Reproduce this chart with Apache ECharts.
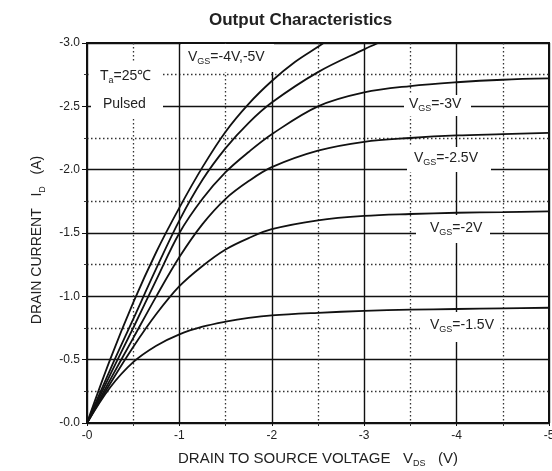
<!DOCTYPE html>
<html>
<head>
<meta charset="utf-8">
<script src="https://cdn.jsdelivr.net/npm/echarts@6/dist/echarts.min.js"></script>
<style>
  html, body { margin: 0; padding: 0; background: #fff; }
  #chart { width: 552px; height: 471px; }
</style>
</head>
<body>
<div id="chart"></div>
<script>
  // drain to source voltage (V)
  var vds = [0, -0.25, -0.5, -0.75, -1, -1.25, -1.5, -1.75, -2, -2.5, -3, -3.5, -4, -4.5, -5]
  // the two top curves leave the plot at -3.0 A
  var vdsVgs5 = [0, -0.25, -0.5, -0.75, -1, -1.25, -1.5, -1.75, -2, -2.25, -2.5, -2.56]
  var vdsVgs4 = [0, -0.25, -0.5, -0.75, -1, -1.25, -1.5, -1.75, -2, -2.5, -3, -3.15]

  // drain current (A) per gate voltage
  var idVgs5 = [0, -0.5, -0.95, -1.35, -1.70, -2.02, -2.30, -2.52, -2.70, -2.85, -2.97, -3.0]
  var idVgs4 = [0, -0.42, -0.82, -1.22, -1.60, -1.92, -2.17, -2.37, -2.53, -2.77, -2.95, -3.0]
  var idVgs3 = [0, -0.38, -0.75, -1.13, -1.50, -1.77, -1.98, -2.14, -2.28, -2.50, -2.61, -2.66, -2.69, -2.71, -2.72]
  var idVgs25 = [0, -0.34, -0.67, -1.00, -1.31, -1.57, -1.77, -1.91, -2.02, -2.15, -2.22, -2.25, -2.27, -2.28, -2.29]
  var idVgs2 = [0, -0.31, -0.60, -0.86, -1.08, -1.24, -1.37, -1.46, -1.53, -1.60, -1.635, -1.65, -1.66, -1.665, -1.67]
  var idVgs15 = [0, -0.28, -0.48, -0.61, -0.70, -0.76, -0.80, -0.83, -0.85, -0.87, -0.885, -0.895, -0.90, -0.905, -0.91]

  var xTicks = ['-0', '-1', '-2', '-3', '-4', '-5']
  var yTicks = ['-0.0', '-0.5', '-1.0', '-1.5', '-2.0', '-2.5', '-3.0']

  var FONT = 'Liberation Sans, Arial, sans-serif'

  function pairs (xs, ys) {
    return xs.map(function (x, i) { return [x, ys[i]] })
  }

  function curve (xs, ys) {
    return {
      type: 'line',
      data: pairs(xs, ys),
      smooth: 0.35,
      showSymbol: false,
      lineStyle: { color: '#111', width: 1.8 },
      z: 5
    }
  }

  var subRich = {
    s: { fontFamily: FONT, fontSize: 9, lineHeight: 10, verticalAlign: 'bottom', color: '#222' }
  }

  // white label boxes that cut the grid lines, and their text
  var notes = [
    { box: [181, 44, 93, 28], lines: [{ t: 'V{s|GS}=-4V,-5V', x: 188, y: 57 }] },
    { box: [91, 63, 72, 54], lines: [{ t: 'T{s|a}=25℃', x: 100, y: 76 }, { t: 'Pulsed', x: 103, y: 104 }] },
    { box: [404, 95, 67, 21], lines: [{ t: 'V{s|GS}=-3V', x: 409, y: 104 }] },
    { box: [407, 147, 84, 25], lines: [{ t: 'V{s|GS}=-2.5V', x: 414, y: 158 }] },
    { box: [416, 215, 74, 28], lines: [{ t: 'V{s|GS}=-2V', x: 430, y: 228 }] },
    { box: [420, 312, 80, 30], lines: [{ t: 'V{s|GS}=-1.5V', x: 430, y: 325 }] }
  ]

  var graphics = []
  notes.forEach(function (n) {
    graphics.push({
      type: 'rect',
      z: 50,
      shape: { x: n.box[0], y: n.box[1], width: n.box[2], height: n.box[3] },
      style: { fill: '#fff' }
    })
    n.lines.forEach(function (l) {
      graphics.push({
        type: 'text',
        z: 51,
        x: l.x,
        y: l.y,
        style: {
          text: l.t,
          fontFamily: FONT,
          fontSize: 14,
          lineHeight: 19,
          fill: '#222',
          verticalAlign: 'middle',
          align: 'left',
          rich: subRich
        }
      })
    })
  })

  var dotted = { color: '#333', width: 1.3, type: [1.5, 2.5] }
  var solid = { color: '#111', width: 1.4 }

  var option = {
    animation: false,
    backgroundColor: '#fff',
    title: {
      text: 'Output Characteristics',
      left: 204,
      top: 7,
      textStyle: { fontFamily: FONT, fontSize: 17, fontWeight: 'bold', color: '#222' }
    },
    grid: {
      left: 87,
      right: 3,
      top: 43,
      bottom: 48,
      containLabel: false,
      outerBoundsMode: 'none',
      show: true,
      borderColor: '#111',
      borderWidth: 2
    },
    xAxis: {
      type: 'value',
      min: -5,
      max: 0,
      interval: 1,
      inverse: true,
      name: 'DRAIN TO SOURCE VOLTAGE   V{s|DS}   (V)',
      nameLocation: 'middle',
      nameGap: 26,
      nameTextStyle: { fontFamily: FONT, fontSize: 15, color: '#222', lineHeight: 19, rich: subRich },
      axisLine: { show: false },
      axisTick: { show: true, length: 3, lineStyle: { color: '#111' } },
      minorTick: { show: true, splitNumber: 2, length: 3, lineStyle: { color: '#333' } },
      axisLabel: {
        fontFamily: FONT, fontSize: 12, color: '#222', margin: 7,
        formatter: function (v) { return xTicks[Math.round(-v)] }
      },
      splitLine: { show: true, lineStyle: solid },
      minorSplitLine: { show: true, lineStyle: dotted }
    },
    yAxis: {
      type: 'value',
      min: -3,
      max: 0,
      interval: 0.5,
      inverse: true,
      name: 'DRAIN CURRENT   I{s|D}   (A)',
      nameLocation: 'middle',
      nameRotate: 90,
      nameGap: 40,
      nameTextStyle: {
        fontFamily: FONT, fontSize: 14, color: '#222', lineHeight: 19,
        padding: [0, 14, 0, 0], rich: subRich
      },
      axisLine: { show: false },
      axisTick: { show: true, length: 5, lineStyle: { color: '#111' } },
      minorTick: { show: true, splitNumber: 2, length: 3, lineStyle: { color: '#333' } },
      axisLabel: {
        fontFamily: FONT, fontSize: 12, color: '#222', margin: 7,
        formatter: function (v) { return yTicks[Math.round(-v * 2)] }
      },
      splitLine: { show: true, lineStyle: solid },
      minorSplitLine: { show: true, lineStyle: dotted }
    },
    series: [
      curve(vdsVgs5, idVgs5),
      curve(vdsVgs4, idVgs4),
      curve(vds, idVgs3),
      curve(vds, idVgs25),
      curve(vds, idVgs2),
      curve(vds, idVgs15)
    ],
    graphic: graphics
  }

  var myEcharts = echarts.init(document.getElementById('chart'))
  myEcharts.setOption(option)
</script>
</body>
</html>
